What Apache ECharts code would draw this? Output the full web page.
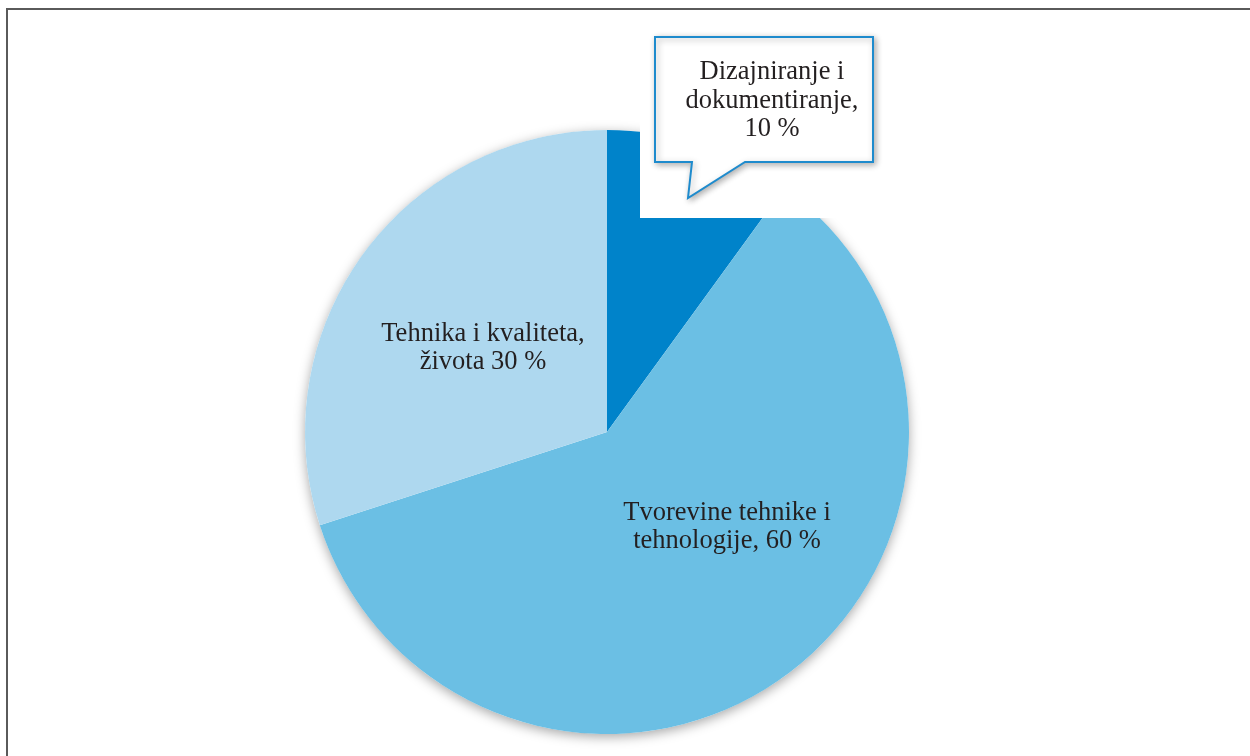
<!DOCTYPE html>
<html>
<head>
<meta charset="utf-8">
<script src="https://cdn.jsdelivr.net/npm/echarts@6/dist/echarts.min.js"></script>
<style>
html,body{margin:0;padding:0;background:#fff;}
#chart{width:1250px;height:756px;}
</style>
</head>
<body>
<div id="chart"></div>
<script>
var categories = ['Dizajniranje i dokumentiranje', 'Tvorevine tehnike i tehnologije', 'Tehnika i kvaliteta života'];
var values = [10, 60, 30];
var labelTexts = ['Dizajniranje i\ndokumentiranje,\n10 %', 'Tvorevine tehnike i\ntehnologije, 60 %', 'Tehnika i kvaliteta,\nživota 30 %'];
var colors = ['#0083CA', '#6BBFE4', '#AED8EF'];

var CENTER = [607, 432];
var RADIUS = 302;
var labelPos = [[772, 101], [727, 527], [483, 348]];

var total = values.reduce(function (a, b) { return a + b; }, 0);

var chart = echarts.init(document.getElementById('chart'));
var option = {
  animation: false,
  backgroundColor: '#ffffff',
  graphic: [
    { type: 'polyline', z: 10, silent: true,
      shape: { points: [[7, 760], [7, 9], [1260, 9]] },
      style: { stroke: '#5a5a5a', lineWidth: 2, fill: null } },
    { type: 'rect', z: 10, silent: true,
      shape: { x: 640, y: 120, width: 200, height: 98 },
      style: { fill: '#ffffff' } },
    { type: 'polygon', z: 11, silent: true,
      shape: { points: [[655, 37], [873, 37], [873, 162], [745, 162], [688, 198], [692, 162], [655, 162]] },
      style: { fill: '#ffffff', stroke: '#1E8BCD', lineWidth: 2,
               shadowBlur: 6, shadowColor: 'rgba(0,0,0,0.3)', shadowOffsetX: 2, shadowOffsetY: 2 } }
  ],
  series: [
    {
      type: 'pie', z: 1, silent: true,
      center: CENTER, radius: RADIUS,
      label: { show: false }, labelLine: { show: false },
      itemStyle: { color: '#ffffff', shadowBlur: 12, shadowColor: 'rgba(0,0,0,0.35)', shadowOffsetY: 3 },
      data: [{ name: 'all', value: total }]
    },
    {
      type: 'pie', z: 2, silent: true,
      center: CENTER, radius: RADIUS,
      startAngle: 90, clockwise: true,
      label: { show: false }, labelLine: { show: false },
      itemStyle: { borderWidth: 0 },
      data: categories.map(function (c, i) {
        return { name: c, value: values[i], itemStyle: { color: colors[i] } };
      })
    },
    {
      type: 'pie', z: 20, silent: true,
      center: CENTER, radius: RADIUS,
      startAngle: 90, clockwise: true,
      avoidLabelOverlap: false,
      itemStyle: { color: 'rgba(0,0,0,0)', borderWidth: 0 },
      labelLine: { show: false },
      label: {
        show: true, position: 'inside',
        fontFamily: 'Liberation Serif', fontSize: 26.5, lineHeight: 28.5,
        color: '#231F20', textBorderWidth: 0, align: 'center',
        formatter: function (p) { return labelTexts[p.dataIndex]; }
      },
      labelLayout: function (p) {
        var pos = labelPos[p.dataIndex];
        return { x: pos[0], y: pos[1], align: 'center', verticalAlign: 'middle' };
      },
      data: categories.map(function (c, i) {
        return { name: c, value: values[i] };
      })
    }
  ]
};
chart.setOption(option);
</script>
</body>
</html>
